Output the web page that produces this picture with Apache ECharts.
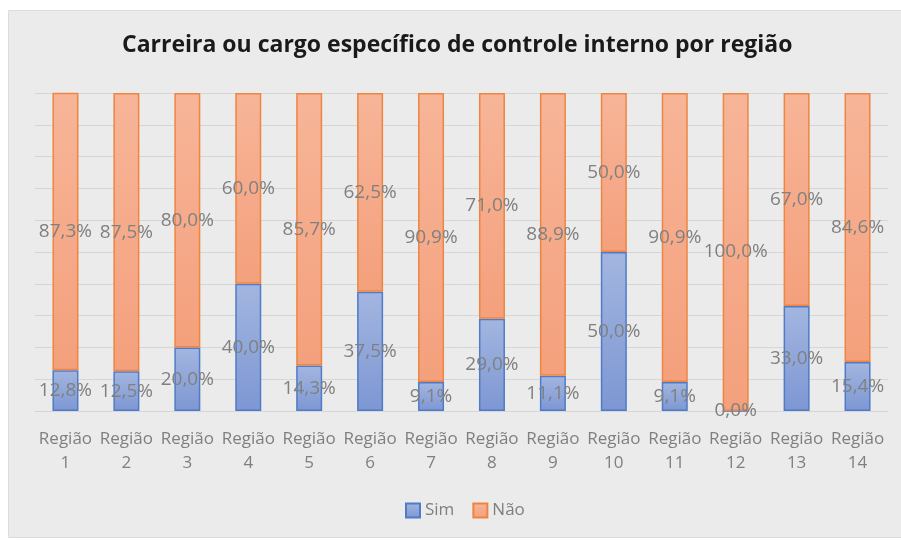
<!DOCTYPE html>
<html>
<head>
<meta charset="utf-8">
<script src="https://cdn.jsdelivr.net/npm/echarts@6/dist/echarts.min.js"></script>
<style>
  html, body { margin: 0; padding: 0; background: #ffffff; }
  #main { width: 901px; height: 540px; }
</style>
</head>
<body>
<div id="main"></div>
<script>
var categories = ['Região\n1', 'Região\n2', 'Região\n3', 'Região\n4', 'Região\n5', 'Região\n6', 'Região\n7',
    'Região\n8', 'Região\n9', 'Região\n10', 'Região\n11', 'Região\n12', 'Região\n13', 'Região\n14'];
var simValues = [12.8, 12.5, 20.0, 40.0, 14.3, 37.5, 9.1, 29.0, 11.1, 50.0, 9.1, 0.0, 33.0, 15.4];
var naoValues = [87.3, 87.5, 80.0, 60.0, 85.7, 62.5, 90.9, 71.0, 88.9, 50.0, 90.9, 100.0, 67.0, 84.6];

function pct(p) {
    return p.value.toFixed(1).replace('.', ',') + '%';
}

function createChart() {
    var chartDom = document.getElementById('main');
    var myChart = echarts.init(chartDom);
    var option;

    var labelStyle = {
        show: true,
        position: 'inside',
        color: '#808080',
        fontSize: 19,
        fontFamily: 'Open Sans',
        formatter: pct
    };

    option = {
    backgroundColor: '#ffffff',
    animation: false,
    graphic: [
        {
        type: 'rect',
        left: 8,
        top: 10,
        z: -10,
        shape: { width: 893, height: 527 },
        style: { fill: '#ebebeb', stroke: '#dcdcdc', lineWidth: 1 }
        }
    ],
    title: {
        text: 'Carreira ou cargo específico de controle interno por região',
        left: 122,
        top: 34,
        padding: 0,
        textStyle: {
            fontFamily: 'Open Sans',
            fontWeight: 'bold',
            fontSize: 23,
            color: '#1a1a1a'
        }
    },
    legend: {
        data: ['Sim', 'Não'],
        left: 400,
        top: 497,
        icon: 'rect',
        itemWidth: 14,
        itemHeight: 14,
        itemGap: 18,
        textStyle: { color: '#7f7f7f', fontSize: 17, fontFamily: 'Open Sans' }
    },
    grid: {
        left: 35,
        right: 13,
        top: 93,
        bottom: 129
    },
    xAxis: {
        type: 'category',
        data: categories,
        axisLine: { show: true, lineStyle: { color: '#d6d6d6' } },
        axisTick: { show: false },
        axisLabel: {
            color: '#7f7f7f',
            fontSize: 17,
            fontFamily: 'Open Sans',
            lineHeight: 24,
            margin: 16,
            interval: 0
        }
    },
    yAxis: {
        type: 'value',
        min: 0,
        max: 100,
        interval: 10,
        axisLabel: { show: false },
        axisLine: { show: false },
        axisTick: { show: false },
        splitLine: { lineStyle: { color: '#d6d6d6', width: 1 } }
    },
    series: [
        {
        name: 'Sim',
        type: 'bar',
        stack: 'total',
        barWidth: 26,
        data: simValues,
        label: labelStyle,
        itemStyle: {
            color: new echarts.graphic.LinearGradient(0, 0, 0, 1, [
                { offset: 0, color: '#a3b6e0' },
                { offset: 1, color: '#7d97d3' }
            ]),
            borderColor: '#4f7bc8',
            borderWidth: 1.5
        }
        },
        {
        name: 'Não',
        type: 'bar',
        stack: 'total',
        barWidth: 26,
        data: naoValues,
        label: labelStyle,
        itemStyle: {
            color: new echarts.graphic.LinearGradient(0, 0, 0, 1, [
                { offset: 0, color: '#f7b598' },
                { offset: 1, color: '#f4a07c' }
            ]),
            borderColor: '#ee8540',
            borderWidth: 1.5
        }
        }
    ]
    };

    option && myChart.setOption(option);
}

createChart();
</script>
</body>
</html>
